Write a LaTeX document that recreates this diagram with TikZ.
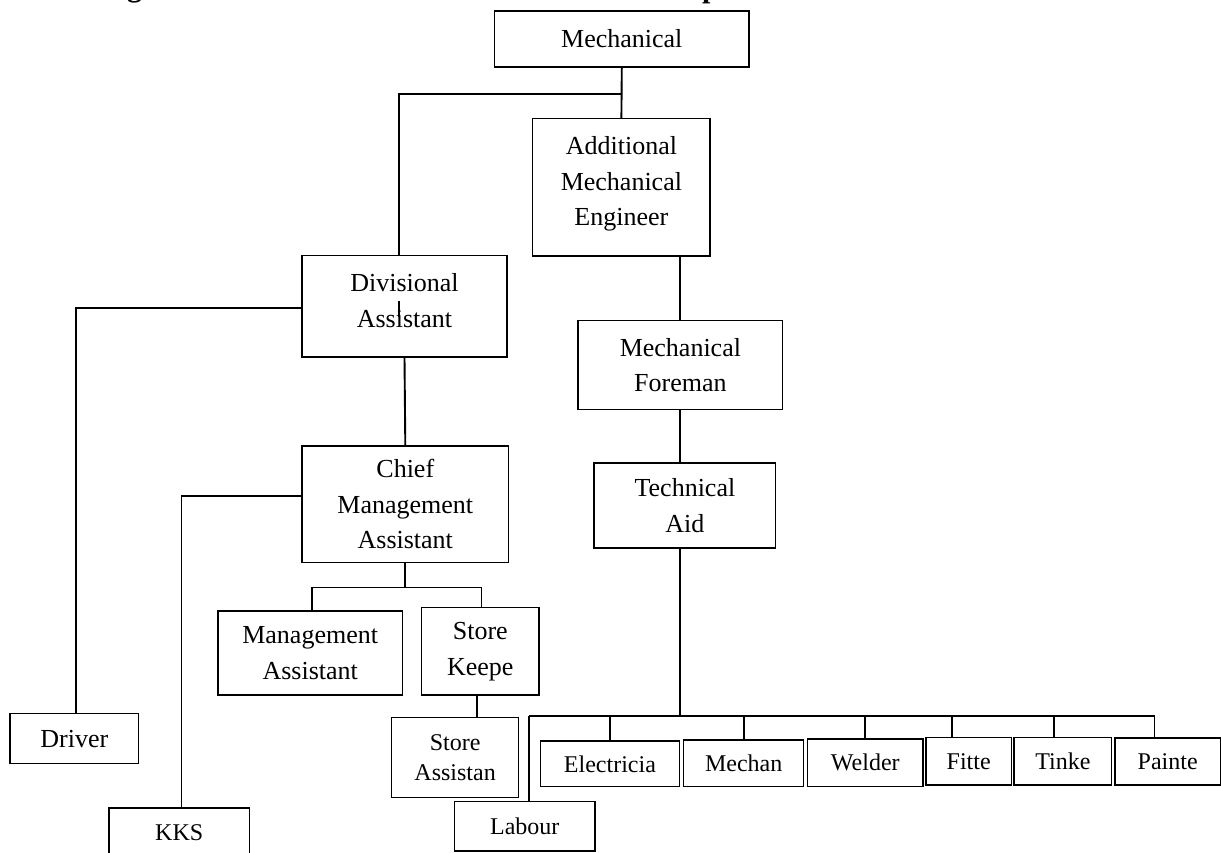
\documentclass[tikz,border=0pt]{standalone}
\usepackage{fontspec}
\setmainfont{Liberation Serif}
\begin{document}
\begin{tikzpicture}[x=1pt,y=-1pt,
  box/.style={draw=black,line width=1.3pt,inner sep=0pt,align=center,
    font=\fontsize{26}{35.5}\selectfont},
  sbox/.style={box,font=\fontsize{24}{30}\selectfont},
  conn/.style={draw=black,line width=1.9pt},
  frag/.style={inner sep=0pt,anchor=base west,font=\bfseries\fontsize{30}{36}\selectfont}]
\path[fill=white,use as bounding box] (0,0) rectangle (1221,852);
% cut-off title fragments
\node[frag] (tg) at (127,-3.5) {g};
\node[frag] (tp) at (702,-3) {p};
% boxes
\node[box,minimum width=254.5,minimum height=56] (mech) at (621.8,39) {Mechanical};
\node[box,minimum width=177.3,minimum height=137.5,text depth=12pt] (add) at (621.4,187.3) {Additional\\Mechanical\\Engineer};
\node[box,minimum width=205,minimum height=101.6,text depth=11pt] (div) at (404.5,306.2) {Divisional\\Assistant};
\node[box,minimum width=204.7,minimum height=89.2] (fore) at (680.4,365.2) {Mechanical\\Foreman};
\node[box,minimum width=181.7,minimum height=85] (tech) at (684.9,505.5) {Technical\\Aid};
\node[box,minimum width=206.6,minimum height=116.5] (chief) at (405.3,504.3) {Chief\\Management\\Assistant};
\node[box,minimum width=184.7,minimum height=84] (mgmt) at (310.2,653) {Management\\Assistant};
\node[box,minimum width=117.5,minimum height=87.3] (keep) at (480.3,651.4) {Store\\Keepe};
\node[sbox,minimum width=126.6,minimum height=80] (sast) at (455.1,757.3) {Store\\Assistan};
\node[box,minimum width=128.6,minimum height=50] (driver) at (74.3,738.6) {Driver};
\node[sbox,minimum width=140.3,minimum height=50] (kks) at (179.2,833) {KKS};
\node[sbox,minimum width=140.4,minimum height=49.3] (lab) at (524.8,826.4) {Labour};
\node[sbox,minimum width=139,minimum height=45.7] (elec) at (609.9,763.8) {Electricia};
\node[sbox,minimum width=120.2,minimum height=46.7] (mechan) at (743.7,763.3) {Mechan};
\node[sbox,minimum width=115.4,minimum height=47.7] (weld) at (865.3,762.8) {Welder};
\node[sbox,minimum width=85.4,minimum height=47.7] (fitte) at (968.7,761.2) {Fitte};
\node[sbox,minimum width=97.8,minimum height=47.7] (tinke) at (1062.9,761.2) {Tinke};
\node[sbox,minimum width=105.4,minimum height=47] (paint) at (1167.7,761.5) {Painte};
% junctions
\coordinate (j1) at (399,94);
\coordinate (j2) at (406.5,587.5);
\coordinate (busL) at (529,716.3);
\coordinate (busR) at (1154.5,716.3);
% connectors
\draw[conn] (mech.south) -- (add.north);
\draw[conn] (div.north -| j1) -- (j1) -- (j1 -| mech.south);
\draw[conn] (fore.north) -- (fore.north |- add.south);
\draw[conn] (fore.south) -- (fore.south |- tech.north);
\draw[conn] ([yshift=-1.4]div.west) -| ([xshift=2]driver.north);
\draw[conn] (div.south) -- (chief.north);
\draw[conn] ([yshift=8.7]chief.west) -| ([xshift=2.3]kks.north);
\draw[conn] (chief.south) -- (chief.south |- j2);
\draw[conn] ([xshift=1.4]mgmt.north) |- ([xshift=1.2]keep.north |- j2) -- ([xshift=1.2]keep.north);
\draw[conn] ([xshift=-3.7]keep.south) -- ([xshift=-3.7]keep.south |- sast.north);
\draw[conn] (tech.south -| fore.south) -- (fore.south |- busL);
\draw[conn] (busL) -- (busR);
\draw[conn] (busL) -- (busL |- lab.north);
\draw[conn] (elec.north) -- (elec.north |- busL);
\draw[conn] (mechan.north) -- (mechan.north |- busL);
\draw[conn] (weld.north) -- (weld.north |- busL);
\draw[conn] ([xshift=-16.7]fitte.north) -- ([xshift=-16.7]fitte.north |- busL);
\draw[conn] ([xshift=-9.1]tinke.north) -- ([xshift=-9.1]tinke.north |- busL);
\draw[conn] (busR) -- (busR |- paint.north);
% stray mark through "Assistant"
\draw[line width=1.4pt] (399,301) -- (399,316.5);
\end{tikzpicture}
\end{document}
